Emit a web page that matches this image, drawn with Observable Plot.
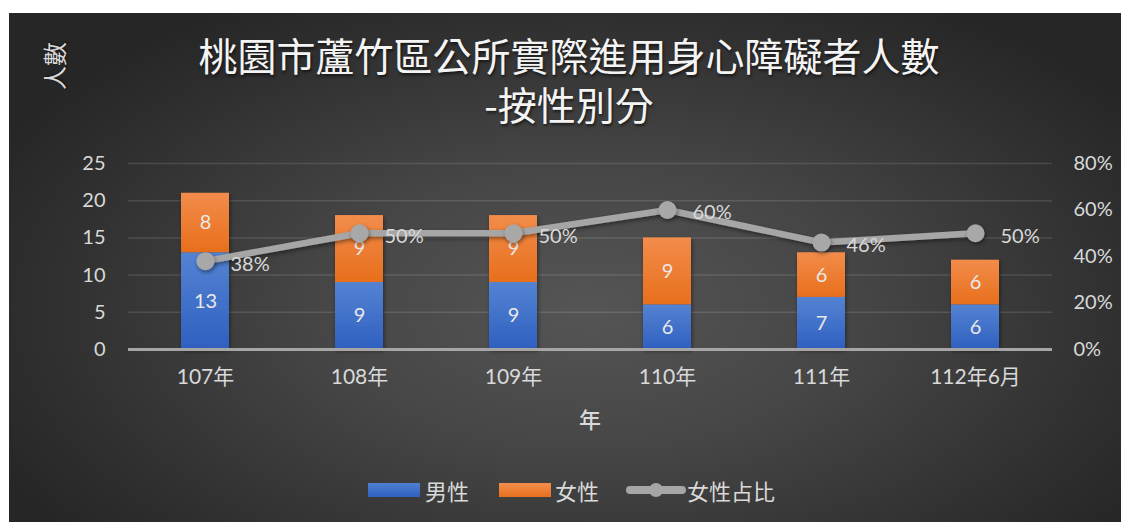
<!DOCTYPE html>
<html><head><meta charset="utf-8">
<script src="https://cdn.jsdelivr.net/npm/d3@7"></script>
<script src="https://cdn.jsdelivr.net/npm/@observablehq/plot@0.6"></script>
<style>
body{margin:0;background:#fff;width:1121px;height:522px;overflow:hidden;position:relative;font-family:Lato,"Noto Sans CJK TC",sans-serif}
#panel{position:absolute;left:9px;top:13px;width:1112px;height:509px;
 background:radial-gradient(ellipse 60% 70% at 52% 58%, #555555 0%, #464646 40%, #303030 80%, #262626 100%)}
#chart{position:absolute;left:0;top:0}
#title{position:absolute;left:0;top:30px;width:1138px;text-align:center;color:#f4f4f4;font-family:"Noto Sans CJK TC",sans-serif;font-size:39px;font-weight:400;line-height:49px;text-shadow:1px 2px 3px rgba(0,0,0,0.6);white-space:nowrap}
#ytitle{position:absolute;left:53px;top:66px;transform:translate(-50%,-50%) rotate(-90deg);color:#d9d9d9;font-family:"Noto Sans CJK TC",sans-serif;font-size:24px;white-space:nowrap;text-shadow:1px 1px 2px rgba(0,0,0,0.5)}
#xtitle{position:absolute;left:590px;top:418px;transform:translate(-50%,-50%);color:#d9d9d9;font-family:"Noto Sans CJK TC",sans-serif;font-size:22px;font-weight:500}
.leg{position:absolute;top:490px;transform:translateY(-50%);color:#d9d9d9;font-family:"Noto Sans CJK TC",sans-serif;font-size:22px;line-height:1}
.sw{position:absolute;width:52px;height:14px;top:483px}
</style></head>
<body>
<div id="panel"></div>
<div id="chart"></div>
<div id="title">桃園市蘆竹區公所實際進用身心障礙者人數<br>-按性別分</div>
<div id="ytitle">人數</div>
<div id="xtitle">年</div>
<div class="sw" style="left:368px;background:linear-gradient(#4f7fd2,#3061c0)"></div>
<div class="leg" style="left:425px">男性</div>
<div class="sw" style="left:499px;background:linear-gradient(#f38d4c,#e8701e)"></div>
<div class="leg" style="left:555px">女性</div>
<svg style="position:absolute;left:625px;top:480px" width="62" height="20"><line x1="5" y1="10" x2="57" y2="10" stroke="#a6a6a6" stroke-width="8" stroke-linecap="round"/><circle cx="31" cy="10" r="7" fill="#a6a6a6"/></svg>
<div class="leg" style="left:687px">女性占比</div>
<script>
const years = ["107年","108年","109年","110年","111年","112年6月"];
const male = [13, 9, 9, 6, 7, 6];
const female = [8, 9, 9, 9, 6, 6];
const femaleRatio = [0.38, 0.50, 0.50, 0.60, 0.46, 0.50];
const leftTicks = [0, 5, 10, 15, 20, 25];
const rightTicks = [0, 0.2, 0.4, 0.6, 0.8];
const leftMax = 25, rightMax = 0.8;

const toLeft = r => r * leftMax / rightMax;
const bars = years.flatMap((y, i) => [
  {year: y, sex: "男性", v: male[i]},
  {year: y, sex: "女性", v: female[i]}
]);
const linePts = years.map((y, i) => ({year: y, yv: toLeft(femaleRatio[i]), label: Math.round(femaleRatio[i] * 100) + "%"}));

const chart = Plot.plot({
  width: 1121, height: 450,
  marginLeft: 128, marginRight: 69, marginTop: 163, marginBottom: 101,
  style: {background: "transparent", color: "#d9d9d9", fontSize: "20px", fontFamily: "Lato, 'Noto Sans CJK TC', sans-serif"},
  x: {domain: years, paddingInner: 0.69, paddingOuter: 0.345},
  y: {domain: [0, leftMax]},
  color: {domain: ["男性", "女性"], range: ["url(#gBlue)", "url(#gOrange)"]},
  marks: [
    Plot.gridY(leftTicks.filter(t => t > 0), {stroke: "#ffffff", strokeOpacity: 0.12, strokeWidth: 1.5}),
    Plot.axisY({anchor: "left", ticks: leftTicks, tickSize: 0, tickPadding: 23, label: null, fontSize: 20, fill: "#d9d9d9"}),
    Plot.axisY({anchor: "right", ticks: rightTicks.map(toLeft), tickSize: 0, tickPadding: 21, label: null, fontSize: 20, fill: "#d9d9d9",
      tickFormat: d => Math.round(d / leftMax * rightMax * 100) + "%"}),
    Plot.axisX({tickSize: 0, tickPadding: 20, label: null, fontSize: 21, fill: "#d9d9d9"}),
    Plot.barY(bars, Plot.stackY({x: "year", y: "v", z: "sex", fill: "sex", order: null})),
    Plot.ruleY([0], {stroke: "#a6a6a6", strokeWidth: 3}),
    Plot.text(bars, Plot.stackY({x: "year", y: "v", z: "sex", text: "v", order: null, fill: "#e8e8e8", fontSize: 20})),
    Plot.line(linePts, {x: "year", y: "yv", stroke: "#a6a6a6", strokeWidth: 6.5, strokeLinejoin: "round"}),
    Plot.dot(linePts, {x: "year", y: "yv", r: 9, fill: "#a8a8a8", stroke: "none"}),
    Plot.text(linePts, {x: "year", y: "yv", text: "label", dx: 25, dy: 3, textAnchor: "start", fill: "#d9d9d9", fontSize: 20})
  ]
});
chart.insertAdjacentHTML("afterbegin", `<defs>
<linearGradient id="gBlue" x1="0" y1="0" x2="0" y2="1"><stop offset="0" stop-color="#5483d3"/><stop offset="1" stop-color="#2f60c0"/></linearGradient>
<linearGradient id="gOrange" x1="0" y1="0" x2="0" y2="1"><stop offset="0" stop-color="#f28c4b"/><stop offset="1" stop-color="#e86f1c"/></linearGradient>
<filter id="sh" x="-20%" y="-20%" width="140%" height="160%"><feDropShadow dx="1" dy="2" stdDeviation="2" flood-color="#000" flood-opacity="0.45"/></filter>
</defs>`);
chart.querySelectorAll('g[aria-label="line"], g[aria-label="dot"], g[aria-label="bar"]').forEach(g => g.setAttribute("filter", "url(#sh)"));
document.getElementById("chart").appendChild(chart);
</script>
</body></html>
